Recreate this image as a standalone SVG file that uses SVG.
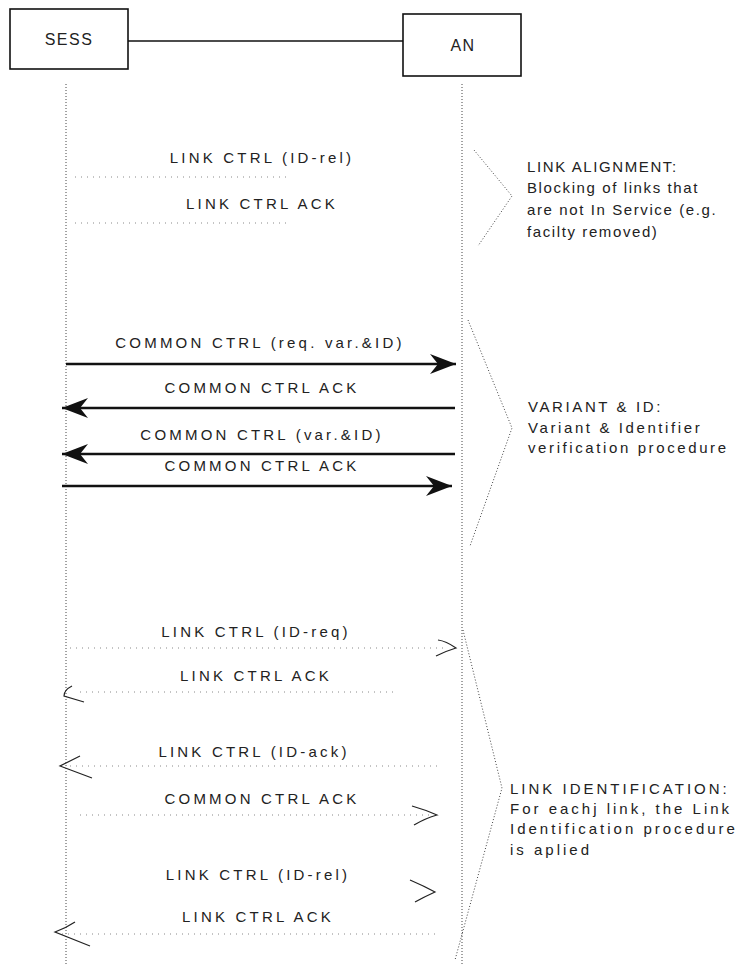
<svg xmlns="http://www.w3.org/2000/svg" width="744" height="965" viewBox="0 0 744 965">
<style>
text{font-family:"Liberation Sans",Arial,sans-serif;font-size:15px;fill:#222;letter-spacing:3.2px}
.box{fill:#fff;stroke:#111;stroke-width:1.6}
.life{stroke:#444;stroke-width:1;stroke-dasharray:1 2;fill:none}
.faint{stroke:#888;stroke-width:1;stroke-dasharray:1 5;fill:none}
.thick{stroke:#111;stroke-width:2.6;fill:none}
.open{stroke:#222;stroke-width:1.2;fill:none}
.brace{stroke:#444;stroke-width:1;stroke-dasharray:1 2;fill:none}
.mid{text-anchor:middle}
.n1{letter-spacing:1.6px}
.n2{letter-spacing:2.6px}
.n3{letter-spacing:3px}
.hd{letter-spacing:1.5px;font-size:16px}
</style>
<defs>
<marker id="head" markerWidth="30" markerHeight="22" refX="28" refY="11" orient="auto" markerUnits="userSpaceOnUse">
<path d="M28,11 L2,1 L10,11 L2,21 Z" fill="#111"/>
</marker>
</defs>
<rect width="744" height="965" fill="#fff"/>
<g id="SESS">
<rect class="box" x="10" y="9" width="118" height="60"/>
<text x="69" y="45" class="mid hd">SESS</text>
</g>
<g id="AN">
<rect class="box" x="403" y="14" width="118" height="62"/>
<text x="463" y="51" class="mid hd">AN</text>
</g>
<g id="connectors">
<line x1="128" y1="41" x2="403" y2="41" stroke="#111" stroke-width="1.4"/>
<line class="life" x1="66" y1="84" x2="66" y2="965"/>
<line class="life" x1="462" y1="84" x2="462" y2="965"/>
<!-- link alignment -->
<line class="faint" x1="75" y1="177" x2="290" y2="177"/>
<line class="faint" x1="75" y1="223" x2="290" y2="223"/>
<!-- variant & ID -->
<line class="thick" x1="66" y1="364" x2="456" y2="364" marker-end="url(#head)"/>
<line class="thick" x1="455" y1="408" x2="62" y2="408" marker-end="url(#head)"/>
<line class="thick" x1="455" y1="454" x2="62" y2="454" marker-end="url(#head)"/>
<line class="thick" x1="62" y1="486" x2="452" y2="486" marker-end="url(#head)"/>
<!-- link identification -->
<line class="faint" x1="70" y1="648" x2="448" y2="648"/>
<path class="open" d="M438,640 Q446,641 456,648 Q446,651 436,656"/>
<line class="faint" x1="80" y1="692" x2="395" y2="692"/>
<path class="open" d="M72,686 Q64,690 64,696 L84,702"/>
<line class="faint" x1="70" y1="766" x2="440" y2="766"/>
<path class="open" d="M80,756 Q72,760 60,766 L92,778"/>
<line class="faint" x1="80" y1="815" x2="430" y2="815"/>
<path class="open" d="M412,806 Q426,810 437,815 Q426,818 414,825"/>
<path class="open" d="M410,880 Q424,886 435,892 Q424,897 415,902"/>
<line class="faint" x1="62" y1="934" x2="440" y2="934"/>
<path class="open" d="M75,922 Q66,928 55,932 L90,946"/>
<!-- braces -->
<polyline class="brace" points="474,150 512,196 478,246"/>
<polyline class="brace" points="468,320 512,428 470,546"/>
<polyline class="brace" points="463,630 502,788 455,960"/>
</g>
<g id="labels">
<text x="262" y="163" class="mid">LINK CTRL (ID-rel)</text>
<text x="262" y="209" class="mid">LINK CTRL ACK</text>
<text x="260" y="348" class="mid">COMMON CTRL (req. var.&amp;ID)</text>
<text x="262" y="393" class="mid">COMMON CTRL ACK</text>
<text x="262" y="440" class="mid">COMMON CTRL (var.&amp;ID)</text>
<text x="262" y="471" class="mid">COMMON CTRL ACK</text>
<text x="256" y="637" class="mid">LINK CTRL (ID-req)</text>
<text x="256" y="681" class="mid">LINK CTRL ACK</text>
<text x="254" y="757" class="mid">LINK CTRL (ID-ack)</text>
<text x="262" y="804" class="mid">COMMON CTRL ACK</text>
<text x="258" y="880" class="mid">LINK CTRL (ID-rel)</text>
<text x="258" y="922" class="mid">LINK CTRL ACK</text>
</g>
<g id="notes">
<text class="n1" x="527" y="172">LINK ALIGNMENT:</text>
<text class="n1" x="527" y="193">Blocking of links that</text>
<text class="n1" x="527" y="215">are not In Service (e.g.</text>
<text class="n1" x="527" y="237">facilty removed)</text>
<text class="n2" x="528" y="412">VARIANT &amp; ID:</text>
<text class="n2" x="528" y="433">Variant &amp; Identifier</text>
<text class="n2" x="528" y="453">verification procedure</text>
<text class="n3" x="510" y="794">LINK IDENTIFICATION:</text>
<text class="n3" x="510" y="814">For eachj link, the Link</text>
<text class="n3" x="510" y="834">Identification procedure</text>
<text class="n3" x="510" y="855">is aplied</text>
</g>
</svg>
